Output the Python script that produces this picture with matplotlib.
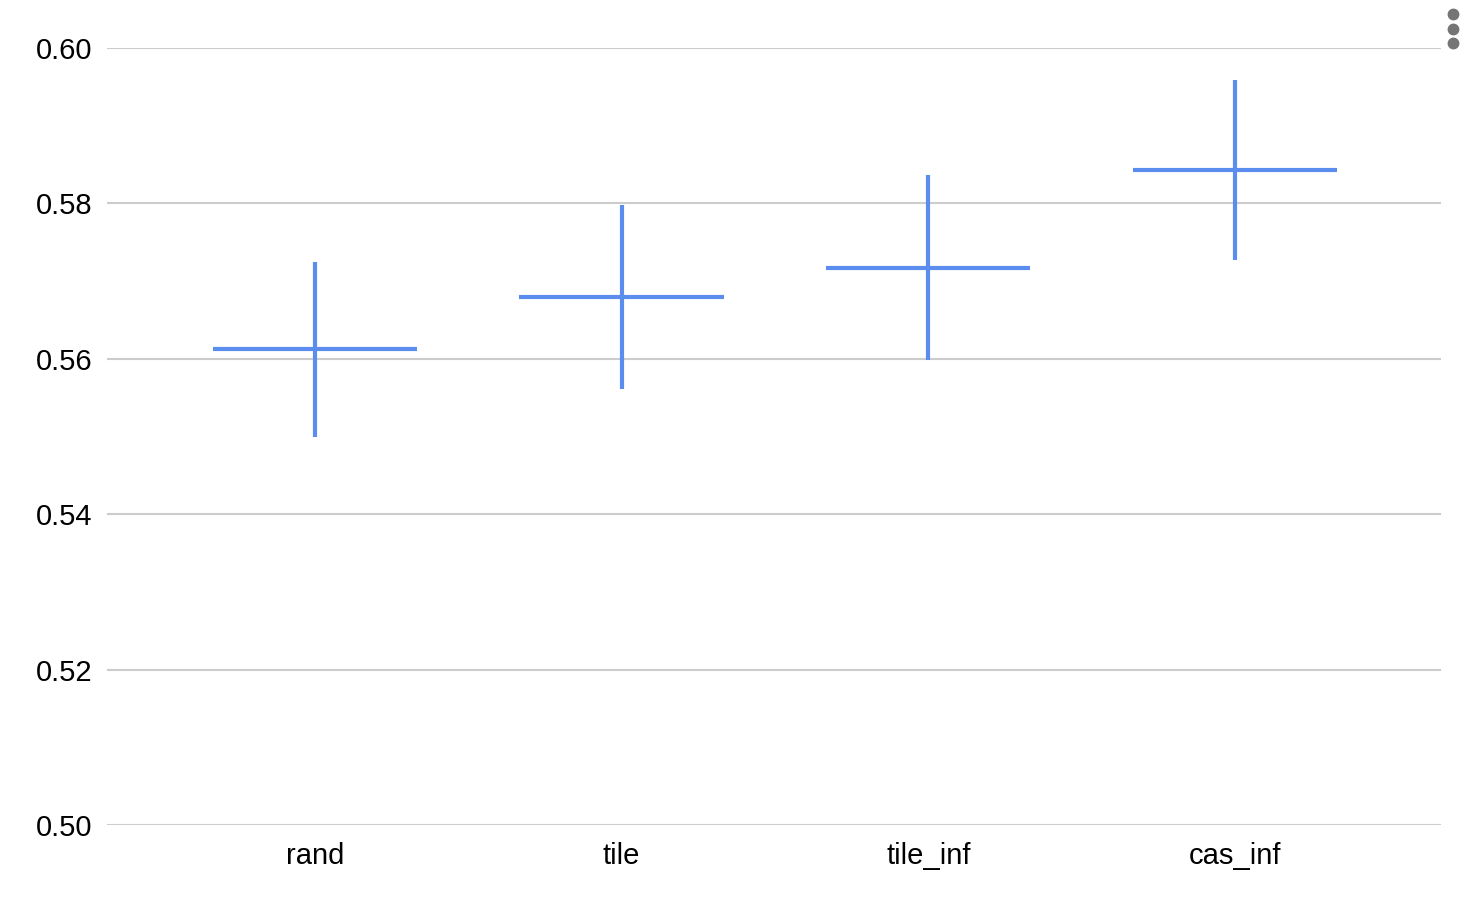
import matplotlib

matplotlib.use("Agg")
import matplotlib.pyplot as plt  # noqa: E402
import numpy as np  # noqa: E402
from matplotlib.lines import Line2D  # noqa: E402

plt.rcParams["font.family"] = ["Liberation Sans", "DejaVu Sans"]

# values: centre line and interval ends
categories = ["rand", "tile", "tile_inf", "cas_inf"]
means = [0.5613, 0.5680, 0.5717, 0.5843]
lows = [0.5499, 0.5561, 0.5598, 0.5727]
highs = [0.5725, 0.5798, 0.5837, 0.5959]

BLUE = "#5b8def"
GRID = "#cccccc"

x = np.arange(len(categories))
means = np.array(means)
lows = np.array(lows)
highs = np.array(highs)

fig = plt.figure(figsize=(14.64, 9), dpi=100)
ax = fig.add_axes([107 / 1464, 1 - 825 / 900, (1441 - 107) / 1464, (825 - 48) / 900])

ax.errorbar(x, means, yerr=[means - lows, highs - means], fmt="none",
            ecolor=BLUE, elinewidth=3, capsize=0, zorder=3)
ax.hlines(means, x - 0.333, x + 0.333, color=BLUE, lw=3, zorder=3)

ax.set_ylim(0.50, 0.60)
ax.set_xlim(-0.678, len(categories) - 1 + 0.672)
ax.set_yticks([0.50, 0.52, 0.54, 0.56, 0.58, 0.60])
ax.set_yticklabels([f"{v:.2f}" for v in ax.get_yticks()])
ax.set_xticks(x)
ax.set_xticklabels(categories)
ax.grid(axis="y", color=GRID, lw=1.5)
ax.set_axisbelow(True)
for s in ax.spines.values():
    s.set_visible(False)
ax.tick_params(axis="both", length=0, labelsize=21, colors="black")
ax.tick_params(axis="y", pad=10.5)
ax.tick_params(axis="x", pad=12)

# chart menu dots, top right corner
fig.add_artist(Line2D([1453 / 1464] * 3, [1 - yy / 900 for yy in (14, 29, 43)],
                      transform=fig.transFigure, ls="none", marker="o",
                      markersize=7.5, color="#757575"))

fig.savefig("out.png", dpi=100)
